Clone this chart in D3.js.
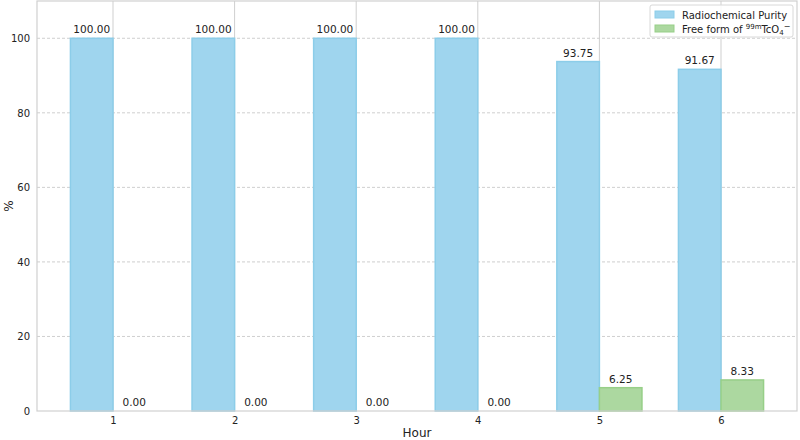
<!doctype html>
<html lang='en'>
<head>
    <meta charset='utf-8'>
    <title>Radiochemical purity</title>
    <script src='https://cdn.jsdelivr.net/npm/d3@7/dist/d3.min.js'></script>
    <style>
        body { margin: 0; background: white; }
        text { font-family: 'DejaVu Sans', sans-serif; fill: #222; }
        .grid line { stroke: #cfcfcf; }
        .ygrid line { stroke-dasharray: 3,2; }
        .axis path, .axis line { stroke: none; }
        .axis text { font-size: 10px; }
        .frame { fill: none; stroke: #d0d0d0; stroke-width: 1.2px; }
    </style>
</head>
<body>
<svg id='chart' width='800' height='440'></svg>
<script>
    const hours = [1, 2, 3, 4, 5, 6];
    const purity = [100, 100, 100, 100, 93.75, 91.67];
    const freeTc = [0, 0, 0, 0, 6.25, 8.33];
    const yTicks = [0, 20, 40, 60, 80, 100];

    const margin = {top: 1, right: 3, bottom: 29, left: 37};
    const width = 800 - margin.left - margin.right;
    const height = 440 - margin.top - margin.bottom;
    const barW = 0.35;

    const svg = d3.select('#chart');
    const g = svg.append('g').attr('transform', `translate(${margin.left},${margin.top})`);

    const x = d3.scaleLinear().domain([0.375, 6.625]).range([0, width]);
    const y = d3.scaleLinear().domain([0, 110]).range([height, 0]);

    // grid: solid verticals at the hours, dashed horizontals
    g.append('g').attr('class', 'grid')
        .selectAll('line').data(hours).enter().append('line')
        .attr('x1', d => x(d)).attr('x2', d => x(d))
        .attr('y1', 0).attr('y2', height);
    g.append('g').attr('class', 'grid ygrid')
        .selectAll('line').data(yTicks.slice(1)).enter().append('line')
        .attr('x1', 0).attr('x2', width)
        .attr('y1', d => y(d)).attr('y2', d => y(d));

    const series = [
        {name: 'purity', values: purity, off: -barW / 2, fill: '#9fd5ee', edge: '#8ccde9'},
        {name: 'free', values: freeTc, off: barW / 2, fill: '#acd8a0', edge: '#97cf88'}
    ];

    series.forEach(s => {
        const rows = hours.map((h, i) => ({h: h, v: s.values[i]}));
        g.append('g').selectAll('rect').data(rows).enter().append('rect')
            .attr('x', d => x(d.h + s.off - barW / 2))
            .attr('width', x(barW) - x(0))
            .attr('y', d => y(d.v))
            .attr('height', d => height - y(d.v))
            .attr('fill', s.fill)
            .attr('stroke', s.edge)
            .attr('stroke-width', 1.5);
        g.append('g').selectAll('text').data(rows).enter().append('text')
            .attr('x', d => x(d.h + s.off))
            .attr('y', d => y(d.v) - 5)
            .attr('text-anchor', 'middle')
            .style('font-size', '10.5px')
            .text(d => d.v.toFixed(2));
    });

    // axes
    g.append('g').attr('class', 'axis')
        .attr('transform', `translate(0,${height})`)
        .call(d3.axisBottom(x).tickValues(hours).tickFormat(d3.format('d')).tickSize(0).tickPadding(6));
    g.append('g').attr('class', 'axis')
        .call(d3.axisLeft(y).tickValues(yTicks).tickSize(0).tickPadding(7));

    g.append('rect').attr('class', 'frame')
        .attr('x', 0).attr('y', 0).attr('width', width).attr('height', height);

    g.append('text')
        .attr('x', width / 2).attr('y', height + 26)
        .attr('text-anchor', 'middle')
        .style('font-size', '12px')
        .text('Hour');
    g.append('text')
        .attr('transform', `translate(${-24},${height / 2}) rotate(-90)`)
        .attr('text-anchor', 'middle')
        .style('font-size', '12px')
        .text('%');

    // legend
    const lg = svg.append('g').attr('transform', 'translate(650,5)');
    lg.append('rect')
        .attr('width', 143).attr('height', 32).attr('rx', 2)
        .attr('fill', 'white').attr('fill-opacity', 0.85)
        .attr('stroke', '#d8d8d8');
    series.forEach((s, i) => {
        lg.append('rect')
            .attr('x', 5).attr('y', 6 + i * 14).attr('width', 19).attr('height', 7)
            .attr('fill', s.fill).attr('stroke', s.edge);
    });
    lg.append('text').attr('x', 32).attr('y', 14).style('font-size', '10px')
        .text('Radiochemical Purity');
    const t2 = lg.append('text').attr('x', 32).attr('y', 28).style('font-size', '10px');
    t2.append('tspan').text('Free form of ');
    t2.append('tspan').attr('dy', -4).style('font-size', '7px').text('99m');
    t2.append('tspan').attr('dy', 4).text('TcO');
    t2.append('tspan').attr('dy', 2).style('font-size', '7px').text('4');
    t2.append('tspan').attr('dy', -6).style('font-size', '8px').text('−');
</script>
</body>
</html>
